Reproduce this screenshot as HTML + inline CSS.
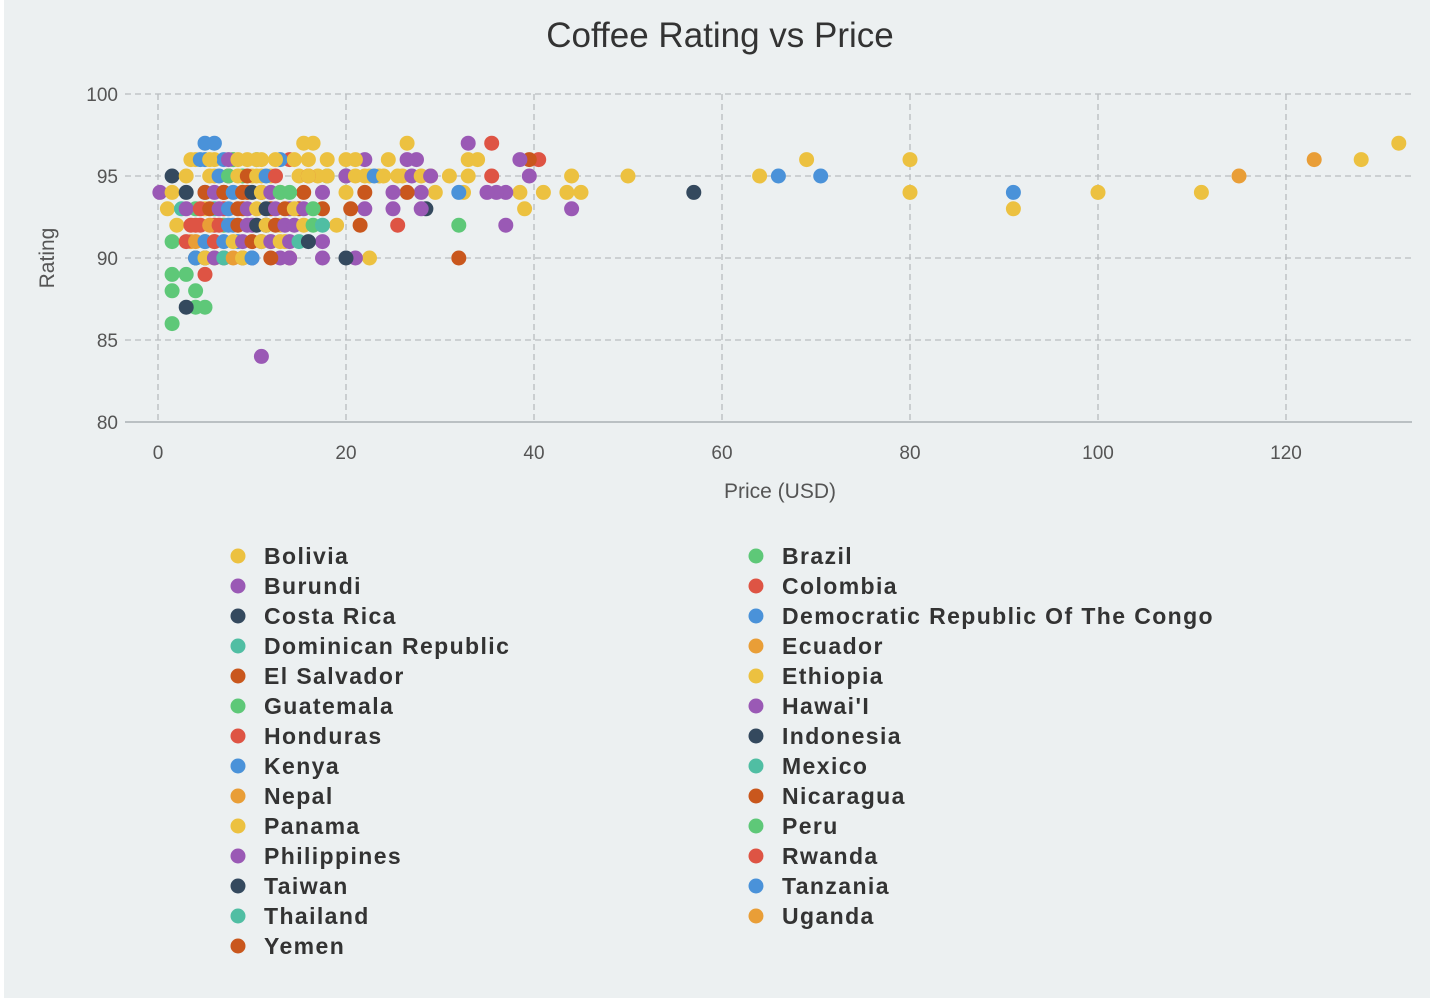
<!DOCTYPE html>
<html><head><meta charset="utf-8"><style>
body{margin:0;background:#fff;}
#wrap{position:absolute;left:4px;top:0;width:1426px;height:998px;background:#ecf0f1;}
svg{position:absolute;left:0;top:0;}
text{font-family:"Liberation Sans","DejaVu Sans",sans-serif;}
</style></head><body>
<div id="wrap"></div>
<svg id="chart" width="1434" height="1002"></svg>
<script>
const countries=["Bolivia","Brazil","Burundi","Colombia","Costa Rica","Democratic Republic Of The Congo","Dominican Republic","Ecuador","El Salvador","Ethiopia","Guatemala","Hawai'I","Honduras","Indonesia","Kenya","Mexico","Nepal","Nicaragua","Panama","Peru","Philippines","Rwanda","Taiwan","Tanzania","Thailand","Uganda","Yemen"];
const palette=["#ecc140","#5ec878","#9a59b5","#de5444","#34495e","#4a92d9","#50bea3","#e99e37","#c9571d"];
const xTicks=[0,20,40,60,80,100,120];
const yTicks=[80,85,90,95,100];
const prices=[0.2,132,128,123,115,111,100,91,91,80,80,70.5,66,69,64,57,50,45,44,44,43.5,41,40.5,39.5,39.5,38.5,38.5,39,37,37,36,35,35.5,35.5,33,33,34,33,32.5,32,32,32,31,29,29.5,28.5,28,28,27.5,26.5,26.5,26.5,25.5,25,25.5,24.5,25,23.5,22.5,22.5,22,22,22,21.5,21,21,20.5,20,20,20,20,19,18,18,17.5,17.5,17.5,17.5,17,16.5,16,15.5,15.5,15,14,14,13.5,13,13,12,11.5,11,11,10.5,10,9.5,9,8.5,8,7.5,7,7,6,5,5,6,5,5,5,4,4,3,3,1.5,1.5,1.5,1.5,1.5,1,1.5,2,2.5,3,3,4,4,4,3.5,6,6,9,10,11,12,13,14,15,16,6,7,5,8,9,7,6,5,5,8,4,3,10,12,11,9,13,9.5,11,6,7,
5.5,6.5,7.5,8.5,9.5,10.5,11.5,12.5,5,6,7,8,9,10,11,12,13,14,4.5,5.5,6.5,7.5,8.5,9.5,10.5,11.5,12.5,13.5,14.5,15.5,16.5,3.5,4.5,5.5,6.5,7.5,8.5,9.5,10.5,11.5,12.5,13.5,14.5,15.5,16.5,17.5,3,4,5,6,7,8,9,10,11,12,13,14,15,16,4,5,6,7,8,9,10,12,14,16,18,20,21,22,3.5,4.5,5.5,7.5,8.5,10.5,12.5,14.5,23,24,26,27,28,29];
const ratings=[94,97,96,96,95,94,94,93,94,96,94,95,95,96,95,94,95,94,95,93,94,94,96,96,95,96,94,93,92,94,94,94,95,97,97,96,96,95,94,94,92,90,95,95,94,93,93,94,96,96,97,94,95,94,92,96,93,95,95,90,96,93,94,92,96,90,93,94,96,95,90,92,95,96,94,93,91,90,95,97,96,97,94,93,96,90,91,90,96,93,92,84,91,96,90,94,90,91,96,95,94,90,97,97,96,95,93,89,87,87,88,87,89,89,88,86,91,95,93,94,92,93,95,94,96,90,92,91,91,90,93,95,94,95,94,93,95,95,92,93,94,92,95,92,93,91,90,96,93,93,92,91,95,94,92,96,96,96,96,
95,95,95,95,95,95,95,95,94,94,94,94,94,94,94,94,94,94,93,93,93,93,93,93,93,93,93,93,93,93,93,92,92,92,92,92,92,92,92,92,92,92,92,92,92,92,91,91,91,91,91,91,91,91,91,91,91,91,91,91,90,90,90,90,90,90,90,90,90,95,95,95,95,95,96,96,96,96,96,96,96,96,95,95,95,95,95,95];
const groups=[2,0,0,7,7,0,0,0,5,0,0,5,5,0,0,4,0,0,0,2,0,0,3,8,2,2,0,0,2,2,2,2,3,3,2,0,0,0,0,5,1,8,0,0,0,4,2,2,2,2,0,8,0,2,3,0,2,0,0,0,2,2,8,8,0,2,8,0,0,4,4,0,1,0,2,8,2,2,0,0,0,0,8,8,3,3,0,2,5,8,4,2,2,1,2,8,8,5,0,8,8,3,5,5,5,0,0,3,1,1,1,4,1,1,1,1,1,4,0,0,0,6,0,4,0,4,3,7,7,0,8,0,8,0,0,2,0,3,3,3,5,5,1,1,6,6,4,1,1,2,2,0,0,0,0,0,0,0,
5,0,5,1,0,8,0,5,3,8,2,8,5,8,4,0,2,1,1,3,8,2,5,8,2,0,4,2,8,0,2,1,3,3,7,3,5,8,2,4,0,8,2,2,0,1,6,3,7,5,3,5,0,2,8,0,2,0,2,6,4,5,0,2,6,7,0,5,8,2,0,0,2,0,0,0,5,0,2,0,0,0,0,5,0,0,2,0,2];
const svg=document.getElementById('chart');const NS='http://www.w3.org/2000/svg';
function mk(t,a,p){const e=document.createElementNS(NS,t);for(const k in a)e.setAttribute(k,a[k]);(p||svg).appendChild(e);return e;}
const X0=125,X1=1412,Y0=94,Y1=422;
const xs=v=>158+v*(1286-158)/120;
const ys=v=>Y1-(v-80)*(Y1-Y0)/20;
let e=mk('text',{x:720,y:47,'text-anchor':'middle','font-size':35,fill:'#333'});e.textContent='Coffee Rating vs Price';


yTicks.forEach(v=>{const y=ys(v);
 if(v>80){const g=mk('line',{x1:X0,x2:X1,y1:y,y2:y,stroke:'#b8bcbf','stroke-dasharray':'6,4','stroke-width':1.3});}
 const t=mk('text',{x:118,y:y+7,'text-anchor':'end','font-size':19,fill:'#555'});t.textContent=v;
 
 });
xTicks.forEach(v=>{const x=xs(v);
 const g=mk('line',{x1:x,x2:x,y1:Y0,y2:Y1,stroke:'#b8bcbf','stroke-dasharray':'6,4','stroke-width':1.3});
 
 
 const t=mk('text',{x:x,y:459,'text-anchor':'middle','font-size':19,fill:'#555'});t.textContent=v;
 
 });
e=mk('line',{x1:X0,x2:X1,y1:Y1,y2:Y1,stroke:'#aab0b4','stroke-width':1.5});


e=mk('text',{x:780,y:498,'text-anchor':'middle','font-size':21,fill:'#555'});e.textContent='Price (USD)';


e=mk('text',{x:54,y:258,'text-anchor':'middle','font-size':21,fill:'#555',transform:'rotate(-90 54 258)'});e.textContent='Rating';


for(let i=0;i<prices.length;i++){
 const c=mk('circle',{cx:xs(prices[i]),cy:ys(ratings[i]),r:7.5,fill:palette[groups[i]%9]});
 
 
}
countries.forEach((n,i)=>{const col=i%2,row=Math.floor(i/2);
 const x=col?756:238,y=556+row*30;
 const d=mk('circle',{cx:x,cy:y,r:7.5,fill:palette[i%9]});
 
 
 const t=mk('text',{x:x+26,y:y+8,'font-size':23,'font-weight':'bold',fill:'#333','letter-spacing':'1.4'});t.textContent=n;
 
 });
</script>
</body></html>
